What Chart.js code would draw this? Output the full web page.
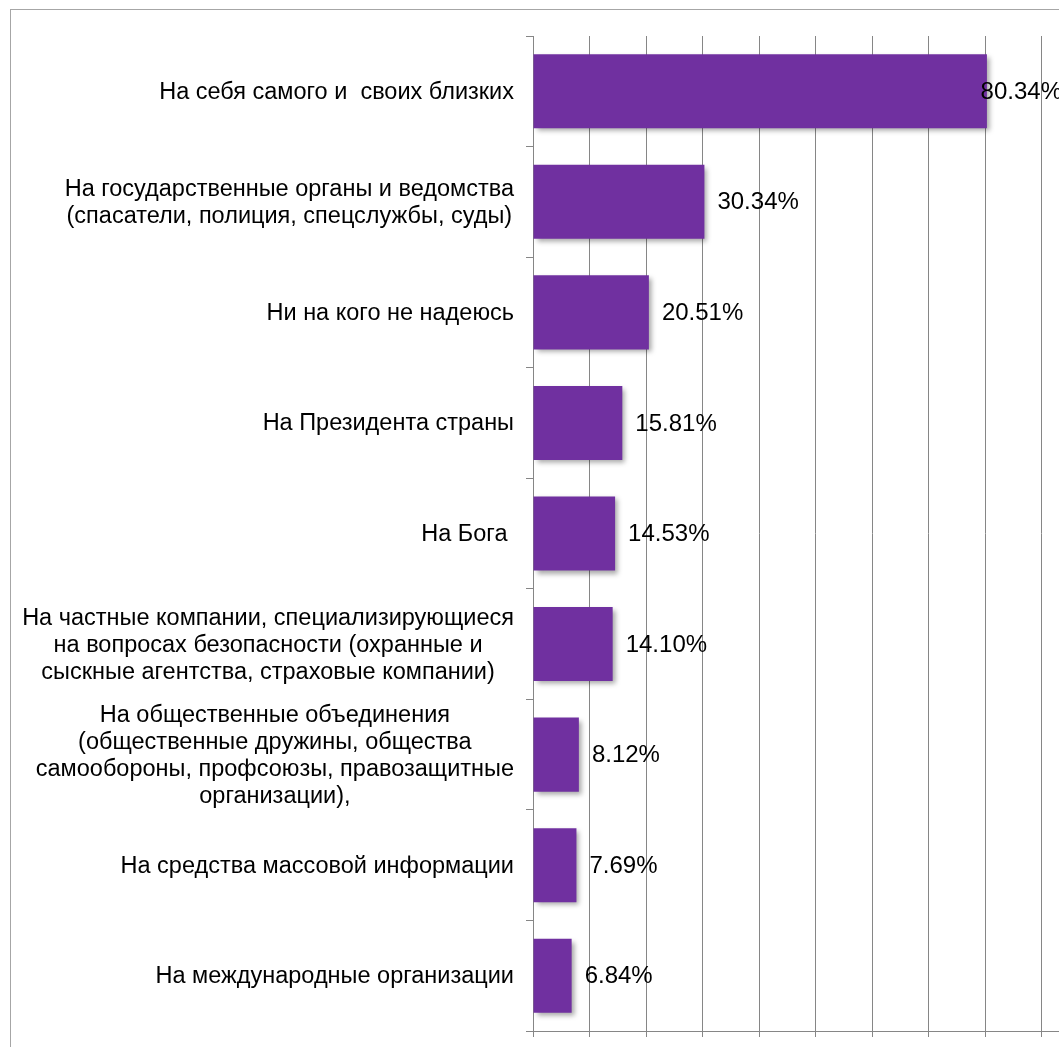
<!DOCTYPE html>
<html>
<head>
<meta charset="utf-8">
<script src="https://cdn.jsdelivr.net/npm/chart.js@4.4.1/dist/chart.umd.min.js"></script>
<style>
  html, body { margin: 0; padding: 0; background: #fff; overflow: hidden; }
  #frame { position: absolute; left: 10px; top: 9px; width: 2000px; height: 2000px; border: 1px solid #a6a6a6; }
  #wrap { position: absolute; left: 0; top: 0; width: 1110px; height: 1047px; }
</style>
</head>
<body>
<div id="frame"></div>
<div id="wrap"><canvas id="chart"></canvas></div>
<script>
  // На кого надеются респонденты (доля ответов, %)
  const categories = [
    ['На себя самого и  своих близких'],
    ['На государственные органы и ведомства', '(спасатели, полиция, спецслужбы, суды)'],
    ['Ни на кого не надеюсь'],
    ['На Президента страны'],
    ['На Бога '],
    ['На частные компании, специализирующиеся', 'на вопросах безопасности (охранные и', 'сыскные агентства, страховые компании)'],
    ['На общественные объединения', '(общественные дружины, общества', 'самообороны, профсоюзы, правозащитные', 'организации),'],
    ['На средства массовой информации'],
    ['На международные организации']
  ];
  const shares = [80.34, 30.34, 20.51, 15.81, 14.53, 14.10, 8.12, 7.69, 6.84];

  const AXIS_GREY = '#868686';
  const FONT = '"Liberation Sans", Arial, sans-serif';

  /* soft drop shadow under the bars, like the Office original */
  const barShadow = {
    id: 'barShadow',
    beforeDatasetDraw(chart) {
      const ctx = chart.ctx;
      ctx.save();
      ctx.shadowColor = 'rgba(0,0,0,0.35)';
      ctx.shadowBlur = 5;
      ctx.shadowOffsetX = 3;
      ctx.shadowOffsetY = 3;
    },
    afterDatasetDraw(chart) {
      chart.ctx.restore();
    }
  };

  /* category labels: block right-aligned to the axis, lines centred inside it */
  const sideLabels = {
    id: 'sideLabels',
    afterDraw(chart) {
      const { ctx, scales: { x, y } } = chart;
      ctx.save();
      ctx.fillStyle = '#000';
      ctx.textBaseline = 'middle';

      ctx.font = '23.5px ' + FONT;
      ctx.textAlign = 'center';
      categories.forEach((lines, i) => {
        const cy = y.getPixelForTick(i) + 1;
        const w = Math.max(...lines.map(l => ctx.measureText(l).width));
        const cx = y.right - 19 - w / 2;
        lines.forEach((l, k) => {
          ctx.fillText(l, cx, cy + (k - (lines.length - 1) / 2) * 27);
        });
      });

      ctx.font = '24px ' + FONT;
      ctx.textAlign = 'left';
      shares.forEach((v, i) => {
        const txt = v.toFixed(2) + '%';
        const w = ctx.measureText(txt).width;
        let lx = x.getPixelForValue(v) + 13;
        if (lx + w > 1062) lx = 1062 - w;
        ctx.fillText(txt, lx, y.getPixelForTick(i) + 1);
      });
      ctx.restore();
    }
  };

  new Chart(document.getElementById('chart'), {
    type: 'bar',
    data: {
      labels: categories,
      datasets: [{
        data: shares,
        backgroundColor: '#7030A0',
        borderWidth: 0,
        categoryPercentage: 0.67,
        barPercentage: 1
      }]
    },
    options: {
      indexAxis: 'y',
      responsive: true,
      maintainAspectRatio: false,
      animation: false,
      layout: { padding: { top: 36, bottom: 10, left: 0, right: 12 } },
      plugins: {
        legend: { display: false },
        tooltip: { enabled: false }
      },
      scales: {
        x: {
          min: 0,
          max: 100,
          ticks: { display: false, stepSize: 10 },
          grid: { color: AXIS_GREY, lineWidth: 1, tickLength: 6 },
          border: { color: AXIS_GREY }
        },
        y: {
          ticks: { display: false },
          grid: { drawOnChartArea: false, offset: true, color: AXIS_GREY, tickLength: 7 },
          border: { color: AXIS_GREY },
          afterFit(scale) { scale.width = 533; }
        }
      }
    },
    plugins: [barShadow, sideLabels]
  });
</script>
</body>
</html>
